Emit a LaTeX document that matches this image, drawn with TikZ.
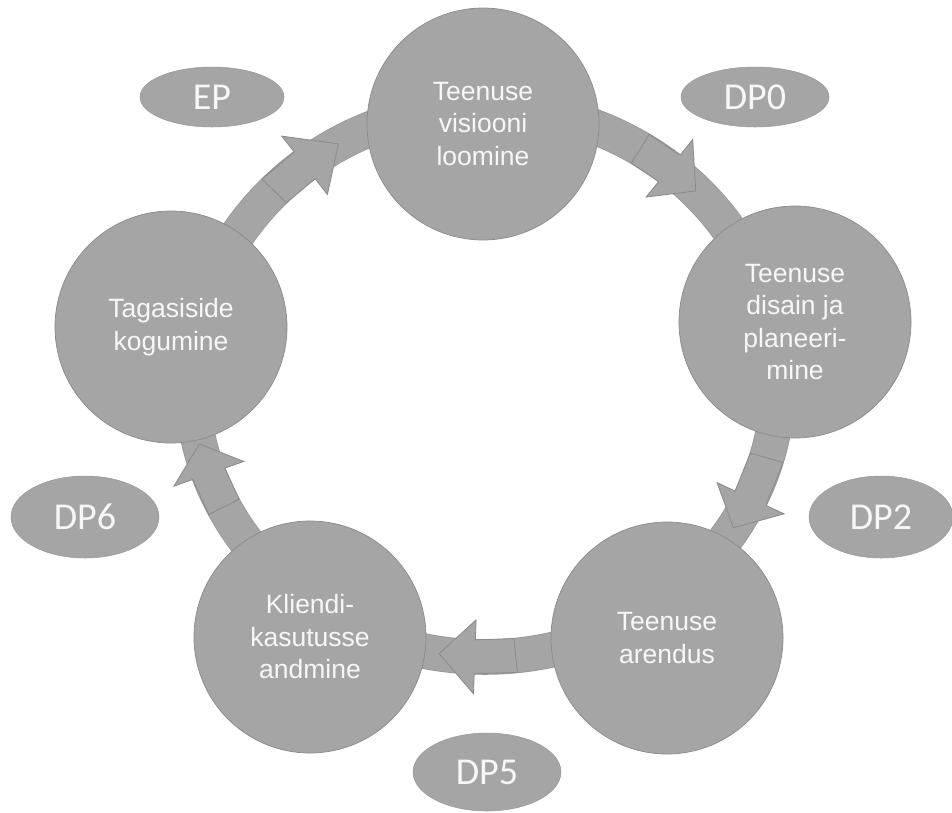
\documentclass[tikz,border=0pt]{standalone}
\usepackage{fontspec}
\setmainfont{Liberation Sans}
\newfontfamily\lblfont{Carlito}
\usetikzlibrary{shapes.geometric}
\definecolor{shapegray}{HTML}{A5A5A5}
\definecolor{edgegray}{HTML}{8A8A8A}
\definecolor{txtwhite}{HTML}{F7F7F7}
\newcommand{\rp}[2]{({485+(293+(#2))*cos(#1)},{382-(275+(#2))*sin(#1)})}
\newcommand{\cycarrow}[3]{%
  \draw[cyclearrow] \rp{#1}{17} -- \rp{#2}{17} -- \rp{#2}{37} -- \rp{#3}{0}
    -- \rp{#2}{-37} -- \rp{#2}{-17} -- \rp{#1}{-17} -- cycle;}
\tikzset{
  stage/.style={circle, minimum size=232pt, inner sep=0pt, fill=shapegray,
    draw=edgegray, line width=0.7pt, text=txtwhite,
    font=\fontsize{26.5}{32.5}\selectfont, align=center},
  gate/.style={ellipse, fill=shapegray, draw=edgegray!50!shapegray,
    line width=0.5pt, text=txtwhite, inner sep=0pt,
    font=\lblfont\fontsize{38}{40}\selectfont},
  bandedge/.style={draw=edgegray!60!shapegray, line width=35.5pt},
  band/.style={draw=shapegray, line width=34pt},
  cyclearrow/.style={fill=shapegray, draw=edgegray, line width=0.8pt, line join=miter},
}
\begin{document}
\begin{tikzpicture}[x=1pt,y=-1pt]
\useasboundingbox (0,0) rectangle (952,812);
% ring band
\draw[bandedge] (485,382) ellipse [x radius=293pt, y radius=275pt];
\draw[band] (485,382) ellipse [x radius=293pt, y radius=275pt];
% arrows on the ring
\cycarrow{58}{51}{44}
\cycarrow{-16}{-25}{-32}
\cycarrow{-84}{-92}{-99}
\cycarrow{207}{199.5}{193}
\cycarrow{136}{128}{120}
% stages
\node[stage] (vis) at (483,124) {Teenuse\\visiooni\\loomine};
\node[stage] (dis) at (795,322) {Teenuse\\disain ja\\planeeri-\\mine};
\node[stage] (are) at (667,638) {Teenuse\\arendus};
\node[stage] (kli) at (310,637) {Kliendi-\\kasutusse\\andmine};
\node[stage] (tag) at (171,327) {Tagasiside\\kogumine};
% decision points
\node[gate, minimum width=144pt, minimum height=60pt] (ep) at (212,97) {EP};
\node[gate, minimum width=148pt, minimum height=60pt] (dp0) at (755,97) {DP0};
\node[gate, minimum width=144pt, minimum height=82pt] (dp2) at (881,517) {DP2};
\node[gate, minimum width=148pt, minimum height=82pt] (dp6) at (85,517) {DP6};
\node[gate, minimum width=148pt, minimum height=78pt] (dp5) at (487,772) {DP5};
\end{tikzpicture}
\end{document}
